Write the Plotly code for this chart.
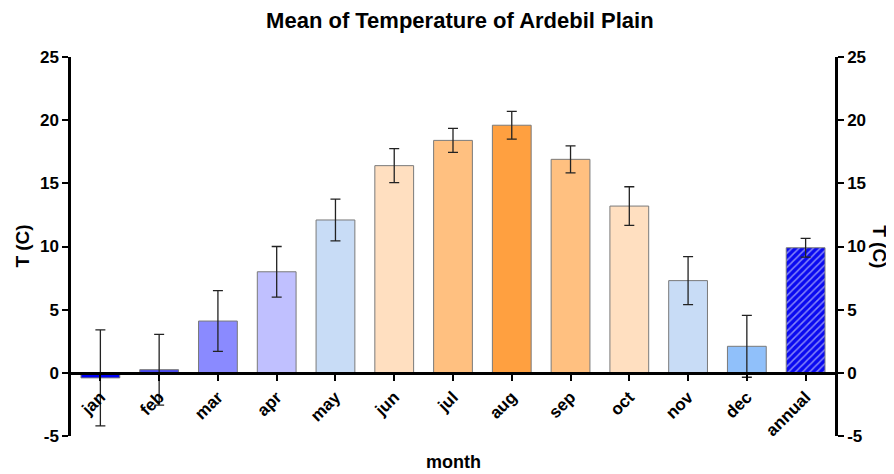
import plotly.graph_objects as go

months = ["jan", "feb", "mar", "apr", "may", "jun", "jul", "aug", "sep", "oct", "nov", "dec", "annual"]
mean_temp = [-0.4, 0.25, 4.1, 8.0, 12.1, 16.4, 18.4, 19.6, 16.9, 13.2, 7.3, 2.1, 9.9]
sd_temp = [3.8, 2.8, 2.4, 2.0, 1.65, 1.35, 0.95, 1.1, 1.07, 1.53, 1.9, 2.45, 0.74]
bar_colors = ["#0000f5", "#4a4af0", "#8a8aff", "#c0c0ff", "#c8dcf6", "#ffdfc0", "#ffc080",
              "#ffa040", "#ffc080", "#ffdfc0", "#c8dcf6", "#90c0fa", "#0a0af0"]
patterns = [""] * 12 + ["/"]
y_ticks = [-5, 0, 5, 10, 15, 20, 25]
y_tick_labels = ["-5", "0", "5", "10", "15", "20", "25"]

FONT = "Liberation Sans, Arial, sans-serif"

fig = go.Figure()
fig.add_trace(go.Bar(
    x=months, y=mean_temp,
    width=0.66,
    marker=dict(color=bar_colors,
                line=dict(color="#7a7a7a", width=1),
                pattern=dict(shape=patterns, fgcolor="#c0c8ff",
                             size=5, solidity=0.3, fillmode="overlay")),
    error_y=dict(type="data", array=sd_temp, visible=True,
                 color="#222222", thickness=1.3, width=5),
    showlegend=False,
))
# invisible trace for right axis
fig.add_trace(go.Scatter(x=[months[0]], y=[None], yaxis="y2", showlegend=False,
                         hoverinfo="skip", mode="markers"))

axis_font = dict(family=FONT, size=17, color="black", weight="bold")

fig.update_layout(
    width=886, height=466,
    margin=dict(l=63, r=59, t=49, b=38),
    paper_bgcolor="white", plot_bgcolor="white",
    title=dict(text="<b>Mean of Temperature of Ardebil Plain</b>",
               font=dict(family=FONT, size=22, color="black"),
               x=0.51, xanchor="center", y=0.974, yanchor="middle"),
    xaxis=dict(
        type="category", range=[-0.5, 12.5],
        anchor="free", position=5 / 30,
        showline=True, linecolor="black", linewidth=2.5,
        ticks="outside", ticklen=6, tickwidth=2, tickcolor="black",
        tickangle=-45, tickfont=axis_font,
        showgrid=False, zeroline=False, layer="above traces",
    ),
    yaxis=dict(
        range=[-5, 25], tickvals=y_ticks, ticktext=y_tick_labels,
        showline=True, linecolor="black", linewidth=2.5,
        ticks="outside", ticklen=6, tickwidth=2, tickcolor="black",
        tickfont=axis_font, showgrid=False, zeroline=False,
    ),
    yaxis2=dict(
        range=[-5, 25], tickvals=y_ticks, ticktext=y_tick_labels,
        overlaying="y", side="right",
        showline=True, linecolor="black", linewidth=2.5,
        ticks="outside", ticklen=6, tickwidth=2, tickcolor="black",
        tickfont=axis_font, showgrid=False, zeroline=False,
    ),
    annotations=[
        dict(text="<b>T (C)</b>", xref="paper", yref="paper", x=-0.064, y=0.5,
             textangle=-90, showarrow=False, font=dict(family=FONT, size=19, color="black"),
             xanchor="center", yanchor="middle"),
        dict(text="<b>T (C)</b>", xref="paper", yref="paper", x=1.058, y=0.5,
             textangle=90, showarrow=False, font=dict(family=FONT, size=19, color="black"),
             xanchor="center", yanchor="middle"),
        dict(text="<b>month</b>", xref="paper", yref="paper", x=0.5, y=-0.068,
             showarrow=False, font=dict(family=FONT, size=18, color="black"),
             xanchor="center", yanchor="middle"),
    ],
)

fig.write_html("out.html")
